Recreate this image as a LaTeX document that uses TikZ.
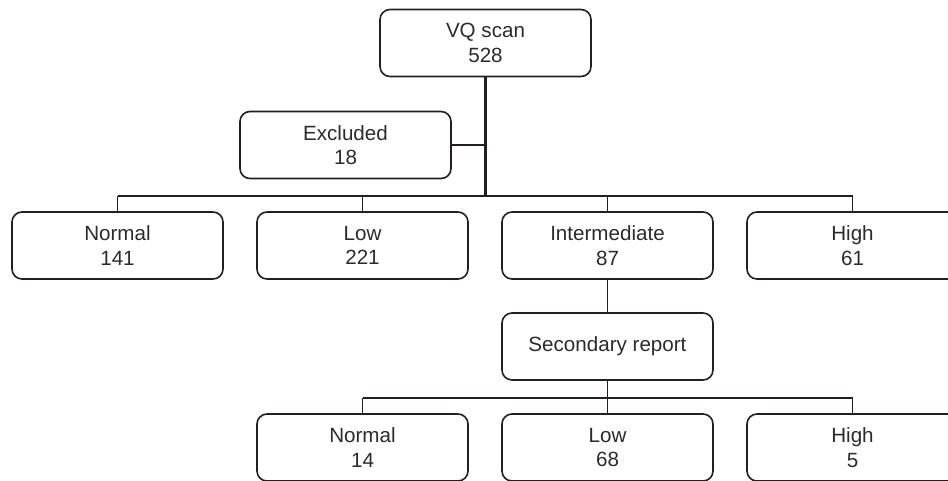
\documentclass[tikz,border=0pt]{standalone}
\usepackage{fontspec}
\setmainfont{Liberation Sans}
\definecolor{linec}{HTML}{231F20}
\definecolor{textc}{HTML}{2B2B2B}
\begin{document}
\begin{tikzpicture}[x=1pt,y=-1pt,
  box/.style={draw=linec, line width=1.6pt, rounded corners=10pt, minimum width=211pt, minimum height=67pt, inner sep=0pt, align=center, text=textc, font=\fontsize{20.6}{24.5}\selectfont},
  conn/.style={draw=linec, line width=1.5pt},
  trunk/.style={draw=linec, line width=2.6pt}]
\useasboundingbox (0,0) rectangle (948,480);
\begin{scope}
\clip (0,0) rectangle (948,480);
\node[box] (vq) at (485.5,43) {VQ scan\\528};
\node[box] (ex) at (345.5,145) {Excluded\\18};
\node[box] (n1) at (117.5,245.5) {Normal\\141};
\node[box] (l1) at (362.5,245.5) {Low\\221};
\node[box] (i1) at (607.5,245.5) {Intermediate\\87};
\node[box] (h1) at (852.5,245.5) {High\\61};
\node[box] (sr) at (607.5,346.5) {Secondary report};
\node[box] (n2) at (362.5,447.5) {Normal\\14};
\node[box] (l2) at (607.5,447.5) {Low\\68};
\node[box] (h2) at (852.5,447.5) {High\\5};
\coordinate (b1) at (485.5,196);
\coordinate (b2) at (607.5,398);
\draw[conn] (ex.east) -- (ex.east -| vq.south);
\draw[conn] (n1.north |- b1) -- (h1.north |- b1);
\foreach \n in {n1,l1,i1,h1} \draw[conn] (\n.north |- b1) -- (\n.north);
\draw[trunk] (vq.south) -- (b1);
\draw[conn] (i1.south) -- (sr.north);
\draw[conn] (sr.south) -- (b2);
\draw[conn] (n2.north |- b2) -- (h2.north |- b2);
\foreach \n in {n2,l2,h2} \draw[conn] (\n.north |- b2) -- (\n.north);
\end{scope}
\end{tikzpicture}
\end{document}
